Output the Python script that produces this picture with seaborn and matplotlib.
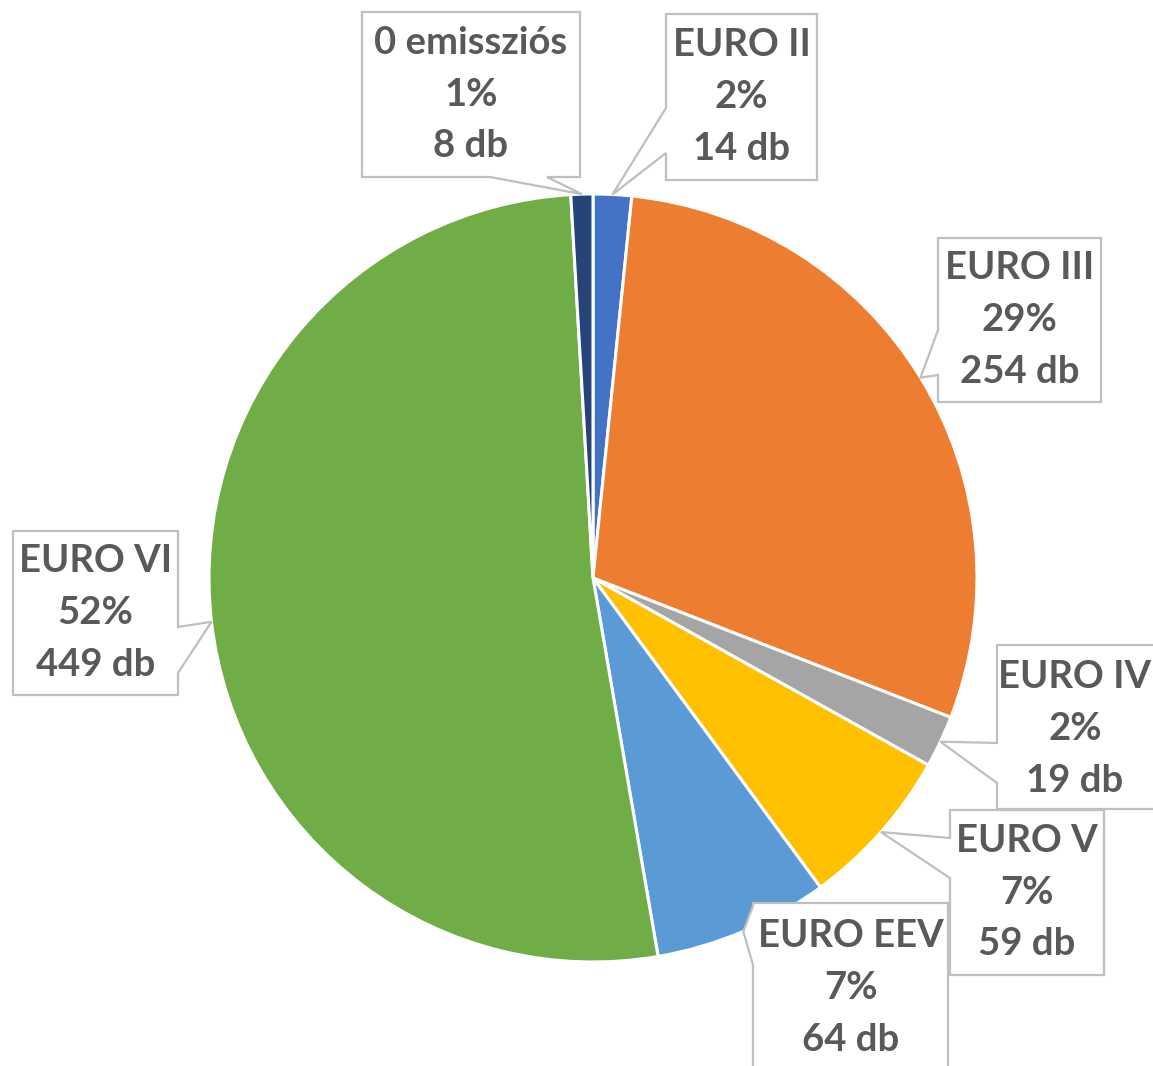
import numpy as np
import matplotlib
matplotlib.use("Agg")
import matplotlib.pyplot as plt
from matplotlib.patches import Polygon
import seaborn as sns

# data: emission classes, clockwise from 12 o'clock
categories = ["EURO II", "EURO III", "EURO IV", "EURO V", "EURO EEV", "EURO VI", "0 emissziós"]
counts = [14, 254, 19, 59, 64, 449, 8]
colors = ["#4472C4", "#ED7D31", "#A5A5A5", "#FFC000", "#5B9BD5", "#70AD47", "#264478"]

# callout boxes in pixel coords: (x0, y0, x1, y1, side, b1, b2)
callouts = {
    "EURO II": (666, 14, 817, 180, "left", 108, 153),
    "EURO III": (938, 238, 1101, 402, "left", 330, 375),
    "EURO IV": (997, 645, 1170, 809, "left", 743, 783),
    "EURO V": (950, 810, 1104, 975, "left", 838, 878),
    "EURO EEV": (753, 903, 948, 1080, "left", 906, 965),
    "EURO VI": (13, 531, 178, 695, "right", 627, 673),
    "0 emissziós": (362, 12, 580, 177, "bottom", 490, 547),
}
# text centres where the box runs off the canvas
text_centre = {"EURO IV": (1075, 729), "EURO EEV": (851, 988)}

W, H = 1153, 1066
CX, CY, R = 593, 578, 384


def px(x, y):
    # pixel -> data coords (pie centered at 0,0 with radius 1)
    return ((x - CX) / R, (CY - y) / R)


def callout_poly(x0, y0, x1, y1, side, b1, b2, tip):
    tl, tr, br, bl = (x0, y0), (x1, y0), (x1, y1), (x0, y1)
    if side == "left":
        pts = [tl, tr, br, bl, (x0, b2), None, (x0, b1)]
    elif side == "right":
        pts = [tl, tr, (x1, b1), None, (x1, b2), br, bl]
    elif side == "bottom":
        pts = [tl, tr, br, (b2, y1), None, (b1, y1), bl]
    else:
        pts = [tl, (b1, y0), None, (b2, y0), tr, br, bl]
    return [tip if p is None else px(*p) for p in pts]


sns.set_style("white")
plt.rcParams["font.family"] = ["Lato", "DejaVu Sans"]

fig = plt.figure(figsize=(W / 100, H / 100), dpi=100)
ax = fig.add_axes([0, 0, 1, 1])

wedges, _ = ax.pie(counts, colors=colors, startangle=90, counterclock=False,
                   radius=1, center=(0, 0),
                   wedgeprops=dict(edgecolor="white", linewidth=2.2))

total = sum(counts)
for w, name, n in zip(wedges, categories, counts):
    mid = np.deg2rad((w.theta1 + w.theta2) / 2)
    tip = (np.cos(mid), np.sin(mid))
    x0, y0, x1, y1, side, b1, b2 = callouts[name]
    pts = callout_poly(x0, y0, x1, y1, side, b1, b2, tip)
    ax.add_patch(Polygon(pts, closed=True, facecolor="white", edgecolor="#BFBFBF",
                         linewidth=1.6, zorder=3))
    cx, cy = text_centre.get(name, ((x0 + x1) / 2, (y0 + y1) / 2))
    tx, ty = px(cx, cy)
    pct = round(n / total * 100)
    ax.text(tx, ty, f"{name}\n{pct}%\n{n} db", ha="center", va="center",
            fontsize=27.5, fontweight="bold", color="#595959", linespacing=1.63, zorder=4)

ax.set_xlim(px(0, 0)[0], px(W, 0)[0])
ax.set_ylim(px(0, H)[1], px(0, 0)[1])
ax.set_aspect("equal")
ax.axis("off")

fig.savefig("out.png", dpi=100)
